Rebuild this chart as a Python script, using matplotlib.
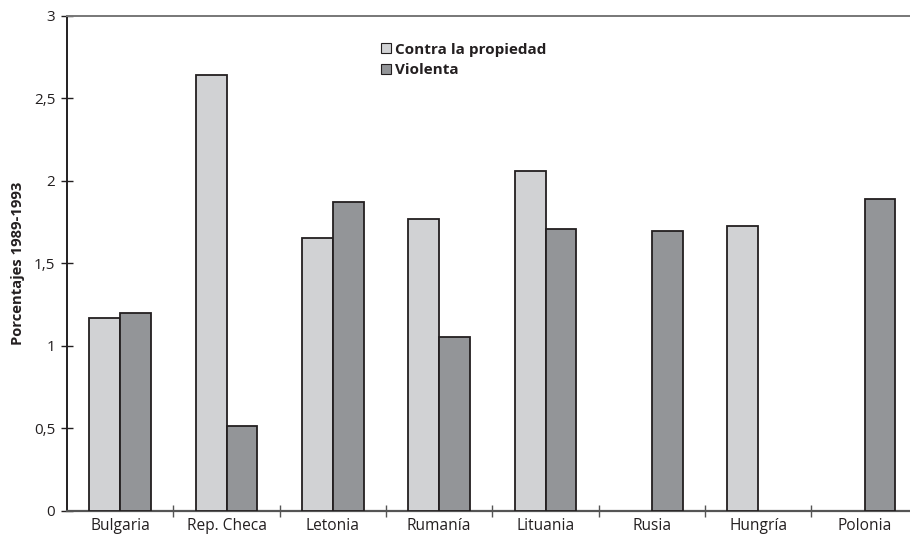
import numpy as np
import matplotlib
matplotlib.use("Agg")
import matplotlib.pyplot as plt
from matplotlib.ticker import FuncFormatter, FixedLocator

plt.rcParams['font.family'] = ['Open Sans', 'DejaVu Sans']

paises = ["Bulgaria", "Rep. Checa", "Letonia", "Rumanía", "Lituania", "Rusia", "Hungría", "Polonia"]
contra_propiedad = [1.17, 2.64, 1.655, 1.768, 2.06, None, 1.724, None]
violenta = [1.20, 0.515, 1.87, 1.053, 1.707, 1.697, None, 1.887]
y_ticks = [0, 0.5, 1, 1.5, 2, 2.5, 3]

col_claro = "#d1d2d4"
col_oscuro = "#939598"
borde = "#231f20"

fig = plt.figure(figsize=(9.10, 5.36), dpi=100)
ax = fig.add_axes([0.0736, 0.0472, 0.935, 0.9235])

ancho = 0.29
x = np.arange(len(paises))

def barras(valores, desplazamiento, color, etiqueta):
    idx = [i for i, v in enumerate(valores) if v is not None]
    vals = [valores[i] for i in idx]
    ax.bar(x[idx] + desplazamiento, vals, width=ancho, color=color,
           edgecolor=borde, linewidth=1.3, label=etiqueta, zorder=3)

barras(contra_propiedad, -ancho / 2, col_claro, "Contra la propiedad")
barras(violenta, ancho / 2, col_oscuro, "Violenta")

ax.set_xlim(-0.5, len(paises) - 0.5)
ax.set_ylim(0, 3)

ax.set_yticks(y_ticks)
ax.yaxis.set_major_formatter(FuncFormatter(lambda v, p: (f"{v:g}").replace(".", ",")))
ax.set_xticks(x)
ax.set_xticklabels(paises)
ax.xaxis.set_minor_locator(FixedLocator(np.arange(0.5, len(paises) - 0.5, 1)))

ax.tick_params(axis='x', which='major', length=0, pad=5, labelsize=11.2, labelcolor=borde)
ax.tick_params(axis='x', which='minor', direction='inout', length=9, width=1, color="#555555")
ax.tick_params(axis='y', direction='inout', length=9, width=1, color=borde,
               labelsize=11, labelcolor=borde, pad=4)

ax.spines["right"].set_visible(False)
ax.spines["left"].set_color(borde)
ax.spines["left"].set_linewidth(1.4)
ax.spines["bottom"].set_color("#555555")
ax.spines["bottom"].set_linewidth(1.6)
ax.spines["top"].set_color("#777777")
ax.spines["top"].set_linewidth(1.4)

ax.set_ylabel("Porcentajes 1989-1993", fontsize=10.6, fontweight='bold', color=borde, labelpad=6)

leg = ax.legend(loc='upper left', bbox_to_anchor=(0.362, 0.958), frameon=False,
                handlelength=0.62, handleheight=0.62, handletextpad=0.3,
                labelspacing=0.42, borderaxespad=0,
                prop={'weight': 'bold', 'size': 11})
for t in leg.get_texts():
    t.set_color(borde)
for h in leg.legend_handles:
    h.set_linewidth(0.8)

fig.savefig("out.png", dpi=100)
